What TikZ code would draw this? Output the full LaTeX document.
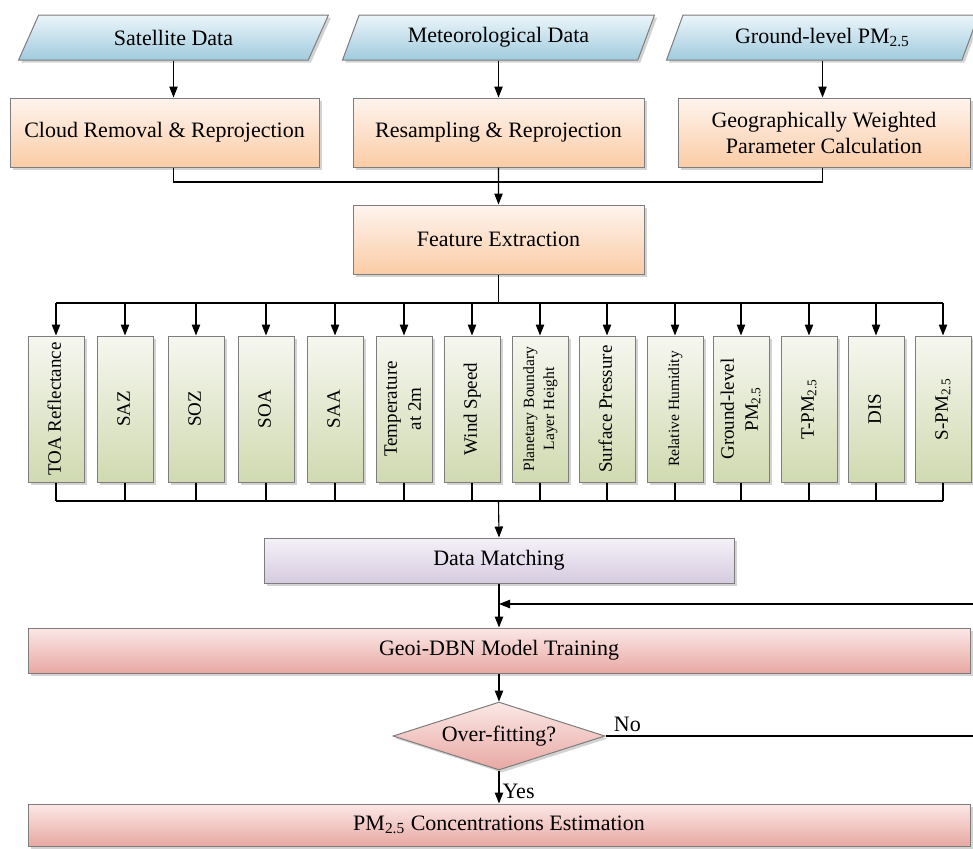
\documentclass[tikz,border=0pt]{standalone}
\usepackage{fontspec}
\setmainfont{Liberation Serif}
\usepackage{graphicx}
\usetikzlibrary{
    arrows.meta,
    positioning,
    calc,
    shapes.geometric,
    shadows
}
\definecolor{EdgeGray}{RGB}{125,125,125}
\definecolor{InTop}{RGB}{236,245,250}
\definecolor{InBot}{RGB}{160,203,222}
\definecolor{PrepTop}{RGB}{254,244,238}
\definecolor{PrepBot}{RGB}{251,204,166}
\definecolor{FeatTop}{RGB}{246,247,240}
\definecolor{FeatBot}{RGB}{208,218,176}
\definecolor{MatchTop}{RGB}{244,241,248}
\definecolor{MatchBot}{RGB}{214,203,224}
\definecolor{TrainTop}{RGB}{251,232,230}
\definecolor{TrainBot}{RGB}{232,168,163}
\newcommand{\vlabel}[1]{\rotatebox{90}{\begin{tabular}{@{}c@{}}#1\end{tabular}}}
\tikzset{
  proc/.style     = {draw=EdgeGray, line width=0.5pt, align=center,
                     font=\fontsize{11}{13}\selectfont, inner sep=2pt,
                     drop shadow={shadow xshift=1.3pt, shadow yshift=-1.3pt,
                                  opacity=0.35}},
  inbox/.style    = {proc, trapezium, trapezium left angle=68,
                     trapezium right angle=112, trapezium stretches=true,
                     minimum width=156pt, minimum height=22.5pt,
                     top color=InTop, bottom color=InBot},
  prepbox/.style  = {proc, minimum height=34.5pt,
                     top color=PrepTop, bottom color=PrepBot},
  featbox/.style  = {proc, minimum width=28pt, minimum height=73pt,
                     inner sep=0pt, font=\fontsize{9.5}{12}\selectfont,
                     top color=FeatTop, bottom color=FeatBot},
  matchbox/.style = {proc, minimum width=235pt, minimum height=22.5pt,
                     top color=MatchTop, bottom color=MatchBot},
  trainbox/.style = {proc, minimum width=471pt, minimum height=22.5pt,
                     top color=TrainTop, bottom color=TrainBot},
  decbox/.style   = {proc, diamond, aspect=3.1, inner sep=0pt,
                     minimum width=106pt, minimum height=34pt,
                     top color=TrainTop, bottom color=TrainBot},
  arr/.style      = {-{Triangle[length=5.5pt,width=4.2pt]}, line width=0.55pt},
  lnk/.style      = {line width=0.55pt}
}

\begin{document}
\begin{tikzpicture}[x=0.5pt, y=-0.5pt]
  \useasboundingbox (0,0) rectangle (973,848);

  % input data
  \node[inbox] (sat) at (173.5, 37.5) {Satellite Data};
  \node[inbox] (met) at (498.5, 37.5) {Meteorological Data};
  \node[inbox] (gnd) at (822.5, 37.5) {Ground-level PM\textsubscript{2.5}};

  % preprocessing
  \node[prepbox, minimum width=154.5pt] (cloud) at (164.5, 132.5) {Cloud Removal \& Reprojection};
  \node[prepbox, minimum width=145.5pt] (resam) at (498.5, 132.5) {Resampling \& Reprojection};
  \node[prepbox, minimum width=146pt] (geow) at (824, 132.5) {Geographically Weighted\\Parameter Calculation};

  \node[prepbox, minimum width=145.5pt] (feat) at (498.5, 239.5) {Feature Extraction};

  \draw[arr] (sat.south) -- (sat.south |- cloud.north);
  \draw[arr] (met.south) -- (met.south |- resam.north);
  \draw[arr] (gnd.south) -- (gnd.south |- geow.north);

  \coordinate (mrg) at (498.5, 182);
  \draw[lnk] (sat.south |- cloud.south) |- (mrg) -| (gnd.south |- geow.south);
  \draw[arr] (met.south |- resam.south) -- (feat.north);

  % features
  \node[featbox] (f1)  at (56, 409)  {\vlabel{TOA Reflectance}};
  \node[featbox] (f2)  at (125, 409) {\vlabel{SAZ}};
  \node[featbox] (f3)  at (196, 409) {\vlabel{SOZ}};
  \node[featbox] (f4)  at (266, 409) {\vlabel{SOA}};
  \node[featbox] (f5)  at (335, 409) {\vlabel{SAA}};
  \node[featbox] (f6)  at (404, 409) {\vlabel{Temperature\\at 2m}};
  \node[featbox] (f7)  at (472, 409) {\vlabel{Wind Speed}};
  \node[featbox, font=\fontsize{7.8}{10}\selectfont] (f8) at (540, 409) {\vlabel{Planetary Boundary\\Layer Height}};
  \node[featbox] (f9)  at (607, 409) {\vlabel{Surface Pressure}};
  \node[featbox, font=\fontsize{7.8}{10}\selectfont] (f10) at (675, 409) {\vlabel{Relative Humidity}};
  \node[featbox] (f11) at (741, 409) {\vlabel{Ground-level\\PM\textsubscript{2.5}}};
  \node[featbox] (f12) at (809, 409) {\vlabel{T-PM\textsubscript{2.5}}};
  \node[featbox] (f13) at (876, 409) {\vlabel{DIS}};
  \node[featbox] (f14) at (943, 409) {\vlabel{S-PM\textsubscript{2.5}}};

  \coordinate (brn) at (498.5, 303);
  \coordinate (jn)  at (498.5, 501);
  \draw[lnk] (feat.south) -- (brn);
  \draw[lnk] (brn -| f1.north) -- (brn -| f14.north);
  \draw[lnk] (jn -| f1.south) -- (jn -| f14.south);
  \foreach \i in {1,...,14} {
    \draw[arr] (brn -| f\i.north) -- (f\i.north);
    \draw[lnk] (f\i.south) -- (jn -| f\i.south);
  }

  % model
  \node[matchbox] (match) at (499, 560.5) {Data Matching};
  \node[trainbox] (train) at (499, 650.5) {Geoi-DBN Model Training};
  \node[decbox]   (ovf)   at (499, 736)   {Over-fitting?};
  \node[trainbox, minimum height=21pt] (est) at (499, 825) {PM\textsubscript{2.5} Concentrations Estimation};

  \coordinate (back) at (973, 604);
  \coordinate (noend) at (973, 736);

  \draw[arr] (jn) -- (match.north);
  \draw[arr] (match.south) -- (train.north);
  \draw[arr] (back) -- (match.south |- back);
  \draw[arr] (train.south) -- (ovf.north);
  \draw[lnk] (ovf.east) -- (noend);
  \node[font=\fontsize{11}{13}\selectfont, anchor=south west, inner sep=1pt] (no) at ([xshift=3pt, yshift=1pt]ovf.east) {No};
  \draw[arr] (ovf.south) -- node[pos=0.62, right, inner sep=1.5pt, font=\fontsize{11}{13}\selectfont] (yes) {Yes} (est.north);
\end{tikzpicture}
\end{document}
